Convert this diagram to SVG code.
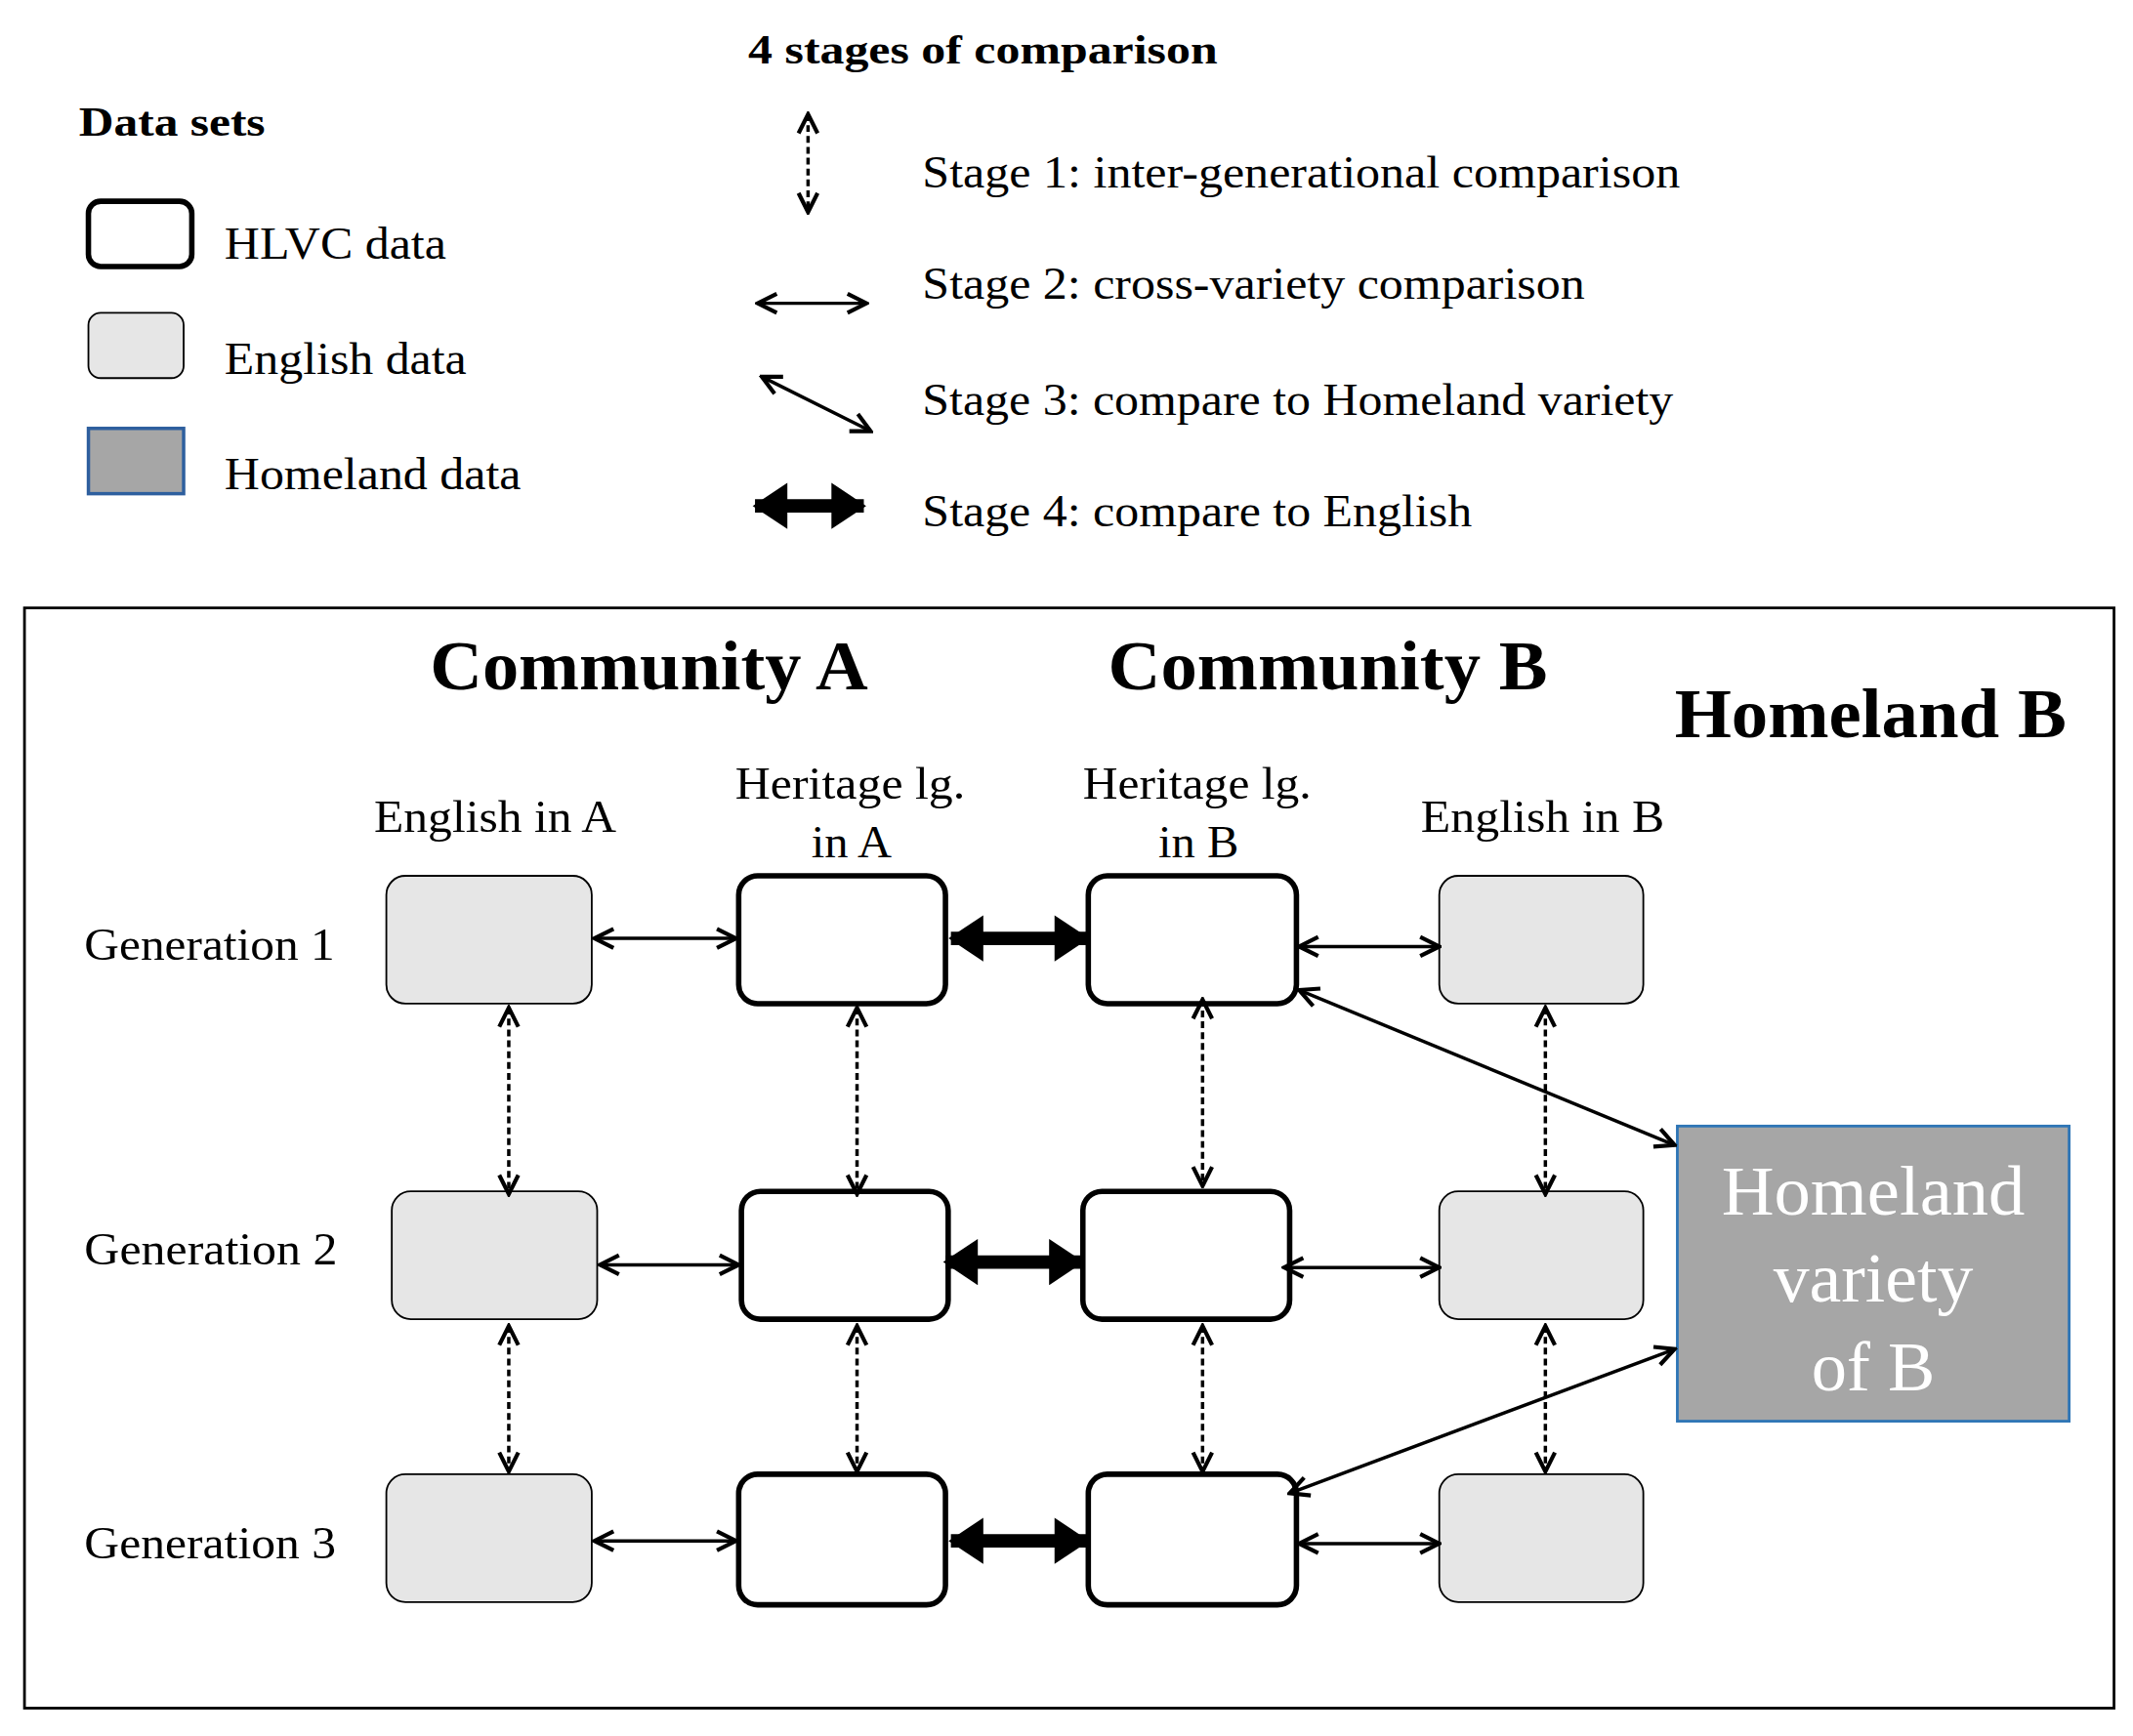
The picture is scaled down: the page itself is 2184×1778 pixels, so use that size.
<svg xmlns="http://www.w3.org/2000/svg" width="2184" height="1778" viewBox="0 0 2184 1778">
<defs>
<style>
text{font-family:"Liberation Serif","Times New Roman",serif;fill:#000}
.b{font-weight:bold}
.hl{fill:#fff;stroke:#000;stroke-width:4}
.en{fill:#e6e6e6;stroke:#000;stroke-width:1.3}
.thin{stroke:#000;stroke-width:2.5;fill:none;marker-start:url(#ah);marker-end:url(#ah)}
.dash{stroke:#000;stroke-width:2.5;stroke-dasharray:5,3;fill:none;marker-start:url(#ah);marker-end:url(#ah)}
.thick{stroke:#000;stroke-width:10;fill:none;marker-start:url(#th);marker-end:url(#th)}
</style>
<marker id="ah" markerUnits="userSpaceOnUse" viewBox="0 0 20 20" refX="18" refY="10" markerWidth="20" markerHeight="20" orient="auto-start-reverse"><path d="M4,3 L18,10 L4,17" fill="none" stroke="#000" stroke-width="3"/></marker>
<marker id="th" markerUnits="userSpaceOnUse" viewBox="0 0 30 40" refX="28" refY="20" markerWidth="26" markerHeight="34" orient="auto-start-reverse"><path d="M0,0 L30,20 L0,40 z" fill="#000"/></marker>
</defs>
<rect width="2184" height="1778" fill="#fff"/>
<g transform="scale(1.3929)">
<g id="legend">
<text x="58" y="100" font-size="30" class="b" textLength="137" lengthAdjust="spacingAndGlyphs">Data sets</text>
<rect x="65" y="148" width="76" height="48" rx="9" class="hl"/>
<rect x="65" y="230" width="70" height="48" rx="9" class="en"/>
<rect x="65" y="315" width="70" height="48" fill="#a6a6a6" stroke="#2e5f9e" stroke-width="2.5"/>
<text x="165" y="190" font-size="33" textLength="163" lengthAdjust="spacingAndGlyphs">HLVC data</text>
<text x="165" y="275" font-size="33" textLength="178" lengthAdjust="spacingAndGlyphs">English data</text>
<text x="165" y="360" font-size="33" textLength="218" lengthAdjust="spacingAndGlyphs">Homeland data</text>
<text x="550" y="47" font-size="31" class="b" textLength="345" lengthAdjust="spacingAndGlyphs">4 stages of comparison</text>
<line x1="594" y1="84" x2="594" y2="156" class="dash"/>
<line x1="557" y1="223" x2="637" y2="223" class="thin"/>
<line x1="560" y1="277" x2="640" y2="317" class="thin"/>
<line x1="555" y1="372" x2="635" y2="372" class="thick"/>
<text x="678" y="138" font-size="33" textLength="557" lengthAdjust="spacingAndGlyphs">Stage 1: inter-generational comparison</text>
<text x="678" y="220" font-size="33" textLength="487" lengthAdjust="spacingAndGlyphs">Stage 2: cross-variety comparison</text>
<text x="678" y="305" font-size="33" textLength="552" lengthAdjust="spacingAndGlyphs">Stage 3: compare to Homeland variety</text>
<text x="678" y="387" font-size="33" textLength="404" lengthAdjust="spacingAndGlyphs">Stage 4: compare to English</text>
</g>
<rect x="18" y="447" width="1536" height="809" fill="none" stroke="#000" stroke-width="2"/>
<g id="headers" text-anchor="middle">
<text x="477" y="507" font-size="52" class="b" textLength="322" lengthAdjust="spacingAndGlyphs">Community A</text>
<text x="976" y="507" font-size="52" class="b" textLength="323" lengthAdjust="spacingAndGlyphs">Community B</text>
<text x="1375" y="542" font-size="52" class="b" textLength="288" lengthAdjust="spacingAndGlyphs">Homeland B</text>
<text x="364" y="612" font-size="34" textLength="178" lengthAdjust="spacingAndGlyphs">English in A</text>
<text x="625" y="587" font-size="34" textLength="169" lengthAdjust="spacingAndGlyphs">Heritage lg.</text>
<text x="626" y="630" font-size="34" textLength="59" lengthAdjust="spacingAndGlyphs">in A</text>
<text x="880" y="587" font-size="34" textLength="168" lengthAdjust="spacingAndGlyphs">Heritage lg.</text>
<text x="881" y="630" font-size="34" textLength="59" lengthAdjust="spacingAndGlyphs">in B</text>
<text x="1134" y="612" font-size="34" textLength="179" lengthAdjust="spacingAndGlyphs">English in B</text>
</g>
<g id="gens">
<text x="62" y="706" font-size="34" textLength="184" lengthAdjust="spacingAndGlyphs">Generation 1</text>
<text x="62" y="930" font-size="34" textLength="186" lengthAdjust="spacingAndGlyphs">Generation 2</text>
<text x="62" y="1146" font-size="34" textLength="185" lengthAdjust="spacingAndGlyphs">Generation 3</text>
</g>
<g id="ea1"><rect x="284" y="644" width="151" height="94" rx="14" class="en"/></g>
<g id="ea2"><rect x="288" y="876" width="151" height="94" rx="14" class="en"/></g>
<g id="ea3"><rect x="284" y="1084" width="151" height="94" rx="14" class="en"/></g>
<g id="ha1"><rect x="543" y="644" width="152" height="94" rx="14" class="hl"/></g>
<g id="ha2"><rect x="545" y="876" width="152" height="94" rx="14" class="hl"/></g>
<g id="ha3"><rect x="543" y="1084" width="152" height="96" rx="14" class="hl"/></g>
<g id="hb1"><rect x="800" y="644" width="153" height="94" rx="14" class="hl"/></g>
<g id="hb2"><rect x="796" y="876" width="152" height="94" rx="14" class="hl"/></g>
<g id="hb3"><rect x="800" y="1084" width="153" height="96" rx="14" class="hl"/></g>
<g id="eb1"><rect x="1058" y="644" width="150" height="94" rx="14" class="en"/></g>
<g id="eb2"><rect x="1058" y="876" width="150" height="94" rx="14" class="en"/></g>
<g id="eb3"><rect x="1058" y="1084" width="150" height="94" rx="14" class="en"/></g>
<g id="homeland">
<rect x="1233" y="828" width="288" height="217" fill="#a6a6a6" stroke="#2e75b6" stroke-width="2"/>
<text x="1377" y="893" font-size="52" text-anchor="middle" style="fill:#fff" textLength="223" lengthAdjust="spacingAndGlyphs">Homeland</text>
<text x="1377" y="957" font-size="52" text-anchor="middle" style="fill:#fff" textLength="147" lengthAdjust="spacingAndGlyphs">variety</text>
<text x="1377" y="1022" font-size="52" text-anchor="middle" style="fill:#fff" textLength="91" lengthAdjust="spacingAndGlyphs">of B</text>
</g>
<g id="connectors">
<line x1="437" y1="690" x2="541" y2="690" class="thin"/>
<line x1="441" y1="930" x2="543" y2="930" class="thin"/>
<line x1="437" y1="1133" x2="541" y2="1133" class="thin"/>
<line x1="955" y1="696" x2="1058" y2="696" class="thin"/>
<line x1="944" y1="932" x2="1058" y2="932" class="thin"/>
<line x1="955" y1="1135" x2="1058" y2="1135" class="thin"/>
<line x1="699" y1="690" x2="799" y2="690" class="thick"/>
<line x1="695" y1="928" x2="795" y2="928" class="thick"/>
<line x1="699" y1="1133" x2="799" y2="1133" class="thick"/>
<line x1="374" y1="741" x2="374" y2="878" class="dash"/>
<line x1="374" y1="975" x2="374" y2="1082" class="dash"/>
<line x1="630" y1="741" x2="630" y2="878" class="dash"/>
<line x1="630" y1="975" x2="630" y2="1082" class="dash"/>
<line x1="884" y1="735" x2="884" y2="872" class="dash"/>
<line x1="884" y1="975" x2="884" y2="1082" class="dash"/>
<line x1="1136" y1="741" x2="1136" y2="878" class="dash"/>
<line x1="1136" y1="975" x2="1136" y2="1082" class="dash"/>
<line x1="955" y1="728" x2="1231" y2="842" class="thin"/>
<line x1="948" y1="1098" x2="1231" y2="992" class="thin"/>
</g>
</g>
</svg>
